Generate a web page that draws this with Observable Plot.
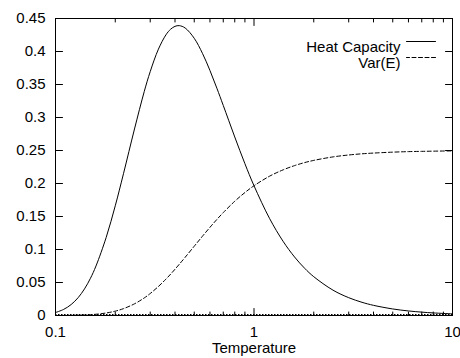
<!DOCTYPE html>
<html>
<head>
<meta charset="utf-8">
<script src="https://cdn.jsdelivr.net/npm/d3@7"></script>
<script src="https://cdn.jsdelivr.net/npm/@observablehq/plot@0.6"></script>
<style>
  html, body { margin: 0; padding: 0; background: #fff; }
</style>
</head>
<body>
<div id="chart"></div>
<script>
// Temperature samples (log-spaced reading positions)
const temperature = [0.1, 0.11, 0.12, 0.13, 0.14, 0.15, 0.16, 0.18, 0.2, 0.22, 0.25, 0.28, 0.3, 0.33, 0.36, 0.38, 0.4, 0.42, 0.45, 0.5, 0.55, 0.6, 0.65, 0.7, 0.8, 0.9, 1, 1.2, 1.4, 1.6, 1.8, 2, 2.5, 3, 3.5, 4, 5, 6, 7, 8, 10];
// Heat Capacity (solid)
const heatCapacity = [0.0045, 0.0093, 0.0167, 0.0270, 0.0403, 0.0564, 0.0751, 0.1183, 0.1662, 0.2148, 0.2826, 0.3394, 0.3695, 0.4036, 0.4252, 0.4337, 0.4381, 0.4392, 0.4356, 0.4200, 0.3972, 0.3712, 0.3444, 0.3183, 0.2705, 0.2300, 0.1966, 0.1466, 0.1126, 0.0887, 0.0715, 0.0588, 0.0384, 0.0270, 0.0200, 0.0154, 0.0099, 0.0069, 0.0051, 0.0039, 0.0025];
// Var(E) (dashed)
const varE = [0.00005, 0.0001, 0.0002, 0.0005, 0.0008, 0.0013, 0.0019, 0.0038, 0.0066, 0.0104, 0.0177, 0.0266, 0.0333, 0.0440, 0.0551, 0.0626, 0.0701, 0.0775, 0.0882, 0.1050, 0.1201, 0.1336, 0.1455, 0.1559, 0.1731, 0.1863, 0.1966, 0.2112, 0.2206, 0.2271, 0.2317, 0.2350, 0.2403, 0.2432, 0.2450, 0.2461, 0.2475, 0.2483, 0.2487, 0.2490, 0.2494];

const seriesNames = ["Heat Capacity", "Var(E)"];
const xLabel = "Temperature";

const xMajorTicks = [0.1, 1, 10];
const xMajorLabels = ["0.1", "1", "10"];
const xMinorTicks = [0.2, 0.3, 0.4, 0.5, 0.6, 0.7, 0.8, 0.9, 2, 3, 4, 5, 6, 7, 8, 9];
const yTicks = [0, 0.05, 0.1, 0.15, 0.2, 0.25, 0.3, 0.35, 0.4, 0.45];
const yTickLabels = ["0", "0.05", "0.1", "0.15", "0.2", "0.25", "0.3", "0.35", "0.4", "0.45"];

const data = temperature.map((t, i) => ({T: t, C: heatCapacity[i], V: varE[i]}));

const lineShape = {
  draw(context, l) { context.moveTo(0, 0); context.lineTo(0, -l); }
};
const inTick = (values, frameAnchor, rotate, length, isX) =>
  Plot.vector(values, {
    ...(isX ? {x: d => d} : {y: d => d}),
    frameAnchor, rotate, length, anchor: "start", shape: lineShape,
    stroke: "black", strokeWidth: 1
  });

const chart = Plot.plot({
  width: 460,
  height: 358,
  marginLeft: 55,
  marginRight: 8,
  marginTop: 18,
  marginBottom: 43,
  x: {type: "log", domain: [0.1, 10]},
  y: {domain: [0, 0.45]},
  style: {
    fontFamily: "'Liberation Sans', Arial, Helvetica, sans-serif",
    fontSize: "15px",
    color: "black",
    background: "white",
    overflow: "visible"
  },
  marks: [
    Plot.ruleY([0], {strokeDasharray: "1.5,1.5", dy: -1, stroke: "black", strokeWidth: 1}),
    Plot.line(data, {x: "T", y: "V", stroke: "black", strokeWidth: 1, strokeDasharray: "4,2.5", curve: "catmull-rom"}),
    Plot.line(data, {x: "T", y: "C", stroke: "black", strokeWidth: 1, curve: "catmull-rom"}),
    Plot.frame({stroke: "black", strokeWidth: 1}),
    // inward ticks on all four sides
    inTick(yTicks, "left", 90, 7, false),
    inTick(yTicks, "right", -90, 7, false),
    inTick(xMajorTicks, "bottom", 0, 7, true),
    inTick(xMajorTicks, "top", 180, 7, true),
    inTick(xMinorTicks, "bottom", 0, 3.5, true),
    inTick(xMinorTicks, "top", 180, 3.5, true),
    Plot.axisY({ticks: yTicks, tickSize: 0, tickPadding: 10, label: null,
      tickFormat: d => yTickLabels[yTicks.indexOf(d)]}),
    Plot.axisX({ticks: xMajorTicks, tickSize: 0, tickPadding: 11, label: null,
      tickFormat: d => xMajorLabels[xMajorTicks.indexOf(d)]}),
    Plot.text([xLabel], {text: d => d, frameAnchor: "bottom", dy: 27, lineAnchor: "top"}),
    // legend
    Plot.text([seriesNames[0]], {text: d => d, frameAnchor: "top-right", textAnchor: "end", dx: -52, dy: 23}),
    Plot.text([seriesNames[1]], {text: d => d, frameAnchor: "top-right", textAnchor: "end", dx: -52, dy: 39}),
    Plot.vector([seriesNames[0]], {frameAnchor: "top-right", dx: -17, dy: 23, rotate: -90, length: 29, anchor: "start", shape: lineShape, stroke: "black", strokeWidth: 1}),
    Plot.vector([seriesNames[1]], {frameAnchor: "top-right", dx: -17, dy: 39, rotate: -90, length: 29, anchor: "start", shape: lineShape, stroke: "black", strokeWidth: 1, strokeDasharray: "4,2.5"})
  ]
});
document.getElementById("chart").appendChild(chart);
</script>
</body>
</html>
